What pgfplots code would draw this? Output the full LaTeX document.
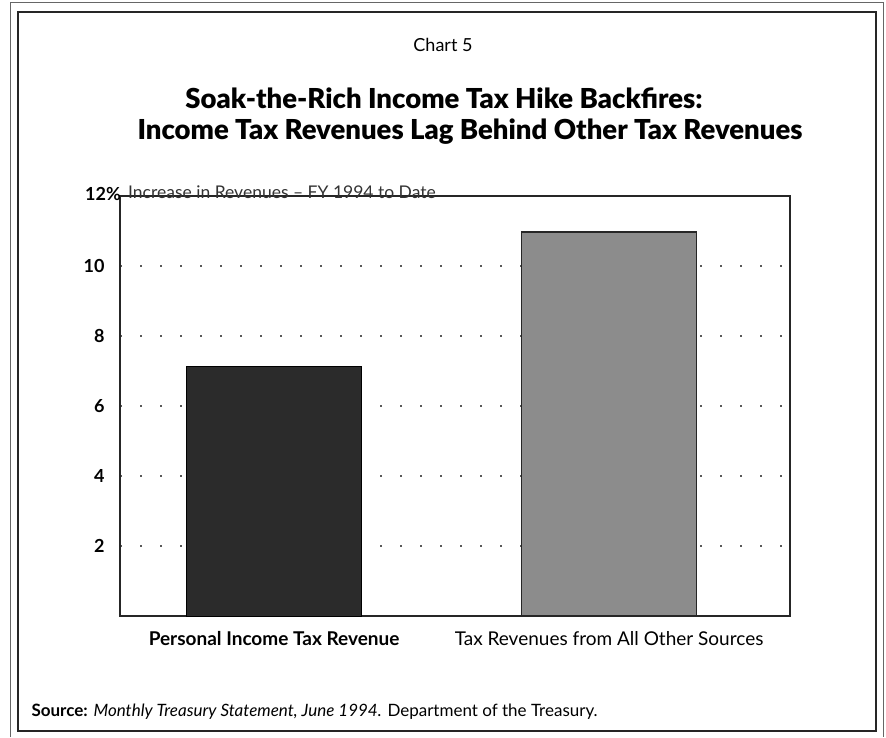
\documentclass[border=0pt]{standalone}
\usepackage{fontspec}
\setmainfont{Lato}
\newfontfamily\titlefont{Lato Black}
\usepackage{pgfplots}
\pgfplotsset{compat=1.18}
\definecolor{darkbar}{HTML}{2B2B2B}
\definecolor{greybar}{HTML}{8C8C8C}
\begin{document}
\begin{tikzpicture}[x=1pt,y=1pt]
\path[use as bounding box] (0,0) rectangle (886,737);
% outer thin frame and inner thick frame
\draw[line width=1pt, black!60] (10,0) -- (10,734) -- (883,734) -- (883,0);
\draw[line width=2.5pt, black!85] (18,6) rectangle (876,725);
% titles
\node[font=\fontsize{18}{21}\selectfont] at (443,692) {Chart 5};
\node[font=\fontsize{27.5}{32}\selectfont\titlefont] at (444,639) {Soak-the-Rich Income Tax Hike Backfires:};
\node[font=\fontsize{27.5}{32}\selectfont\titlefont] at (470,605) {Income Tax Revenues Lag Behind Other Tax Revenues};
% source
\node[anchor=west, font=\fontsize{17}{20}\selectfont] at (28,25) {\textbf{Source:} \textit{Monthly Treasury Statement, June 1994.} Department of the Treasury.};
\begin{axis}[
  at={(120pt,121pt)}, anchor=south west,
  scale only axis, width=670pt, height=420pt,
  xmin=-0.46, xmax=1.54, ymin=0, ymax=12,
  xtick={0,1},
  xticklabels={{\bfseries Personal Income Tax Revenue},{Tax Revenues from All Other Sources}},
  ytick={2,4,6,8,10},
  major tick length=0pt,
  /pgf/number format/assume math mode=true,
  tick label style={font=\fontsize{19}{22}\selectfont},
  yticklabel style={font=\fontsize{18}{21}\selectfont\bfseries, xshift=-12pt},
  xticklabel style={yshift=-12pt},
  ymajorgrids,
  major grid style={dash pattern=on 2pt off 18pt, line width=1.6pt, black!65},
  axis line style={line width=1.6pt, black!85},
  clip=false,
]
\addplot[ybar, bar shift=0pt, bar width=175pt, fill=darkbar, draw=black, line width=0.8pt] coordinates {(0,7.14)};
\addplot[ybar, bar shift=0pt, bar width=175pt, fill=greybar, draw=black!85, line width=1.2pt] coordinates {(1,10.97)};
\node[anchor=south west, inner sep=0pt, font=\fontsize{17.5}{20}\selectfont, black!80] at (rel axis cs:0,1) [xshift=8pt, yshift=-3pt] {Increase in Revenues -- FY 1994 to Date};
\node[anchor=east, inner sep=0pt, font=\fontsize{18}{21}\selectfont\bfseries] at (rel axis cs:0,1) [xshift=1pt, yshift=2pt] {12\%};
\end{axis}
\end{tikzpicture}
\end{document}
